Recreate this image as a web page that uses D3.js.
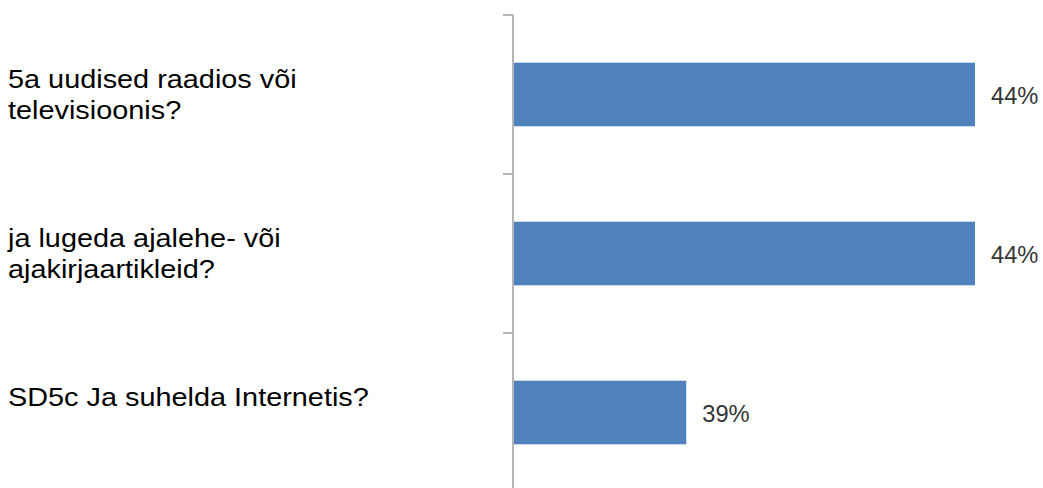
<!DOCTYPE html>
<html>
<head>
<meta charset="utf-8">
<script src="https://cdn.jsdelivr.net/npm/d3@7"></script>
<style>
  html, body { margin: 0; padding: 0; background: #ffffff; }
  svg { display: block; }
</style>
</head>
<body>
<svg id="chart" width="1043" height="488"></svg>
<script>
// Survey items (each item is split into its display lines)
const categories = [
  "5a uudised raadios või televisioonis?",
  "ja lugeda ajalehe- või ajakirjaartikleid?",
  "SD5c Ja suhelda Internetis?"
];
const categoryLines = [
  ["5a uudised raadios või", "televisioonis?"],
  ["ja lugeda ajalehe- või", "ajakirjaartikleid?"],
  ["SD5c Ja suhelda Internetis?", ""]
];
// Share of respondents, percent
const values = [44, 44, 39];
const valueLabels = ["44%", "44%", "39%"];
// Value axis starts above zero
const axisDomain = [36, 44];

const svg = d3.select("#chart");
const W = 1043, H = 488;
const axisX = 513;

const x = d3.scaleLinear().domain(axisDomain).range([axisX, 975]);
const y = d3.scaleBand()
  .domain(categories)
  .range([15, 492])
  .paddingInner(0.6)
  .paddingOuter(0.3);

// Bars
svg.append("g").selectAll("rect")
  .data(categories)
  .join("rect")
  .attr("x", axisX)
  .attr("y", d => y(d))
  .attr("width", (d, i) => x(values[i]) - axisX)
  .attr("height", y.bandwidth())
  .attr("fill", "#4f81bd");

// Category axis: line with tick marks between categories
const axisColor = "#b5b5b5";
const axisG = svg.append("g");
axisG.append("line")
  .attr("x1", axisX).attr("x2", axisX)
  .attr("y1", y.range()[0]).attr("y2", H)
  .attr("stroke", axisColor).attr("stroke-width", 2);
const boundaries = categories.map(d => y(d) - y.step() * y.paddingOuter());
axisG.selectAll("line.tick")
  .data(boundaries)
  .join("line")
  .attr("class", "tick")
  .attr("x1", axisX - 10).attr("x2", axisX)
  .attr("y1", d => d).attr("y2", d => d)
  .attr("stroke", axisColor).attr("stroke-width", 2);

// Category labels
const catSize = 26, lineGap = 31, stretch = 1.11;
svg.append("g").selectAll("text")
  .data(categories)
  .join("text")
  .attr("transform", (d, i) => {
    const lines = categoryLines[i];
    const cy = y(d) + y.bandwidth() / 2;
    const first = cy - (lines.length - 1) * lineGap / 2 + catSize * 0.36;
    return `translate(8,${first}) scale(${stretch},1)`;
  })
  .attr("font-family", "'Liberation Sans', Arial, sans-serif")
  .attr("font-size", catSize)
  .attr("fill", "#000000")
  .each(function(d, i) {
    d3.select(this).selectAll("tspan")
      .data(categoryLines[i])
      .join("tspan")
      .attr("x", 0)
      .attr("dy", (t, j) => j === 0 ? 0 : lineGap)
      .text(t => t);
  });

// Value labels
svg.append("g").selectAll("text")
  .data(categories)
  .join("text")
  .attr("transform", (d, i) =>
    `translate(${x(values[i]) + 16},${y(d) + y.bandwidth() / 2 + 9}) scale(1.03,1)`)
  .attr("font-family", "'Liberation Sans', Arial, sans-serif")
  .attr("font-size", 23)
  .attr("fill", "#363636")
  .text((d, i) => valueLabels[i]);
</script>
</body>
</html>
